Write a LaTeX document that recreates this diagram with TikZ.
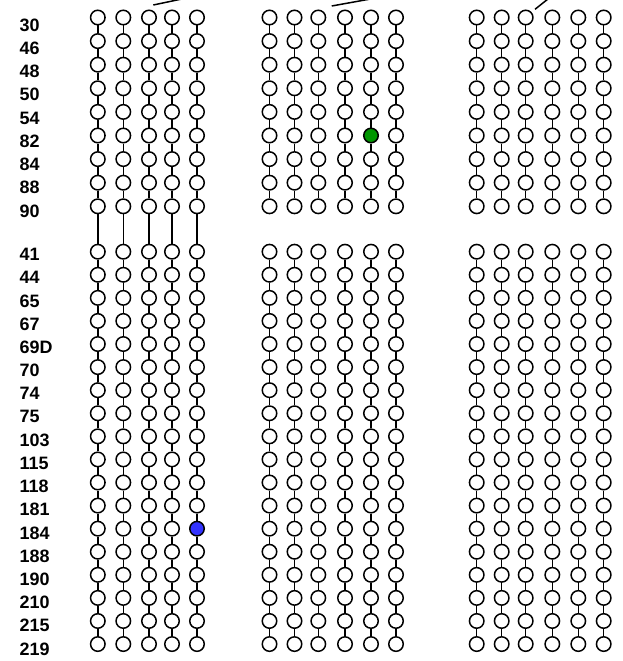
\documentclass[tikz,border=0pt]{standalone}
\usepackage{fontspec}
\setmainfont{Liberation Sans}
\usepackage{tikz}
\usetikzlibrary{positioning}
\definecolor{hitgreen}{RGB}{0,150,0}
\definecolor{hitblue}{RGB}{51,51,255}

\begin{document}
\begin{tikzpicture}[x=1bp, y=-1bp,
  site/.style={circle, draw, line width=1.5bp, fill=white, minimum size=14.5bp, inner sep=0pt},
  link/.style={line width=1.5bp},
  lab/.style={anchor=west, inner sep=0pt, font=\bfseries\fontsize{18}{20}\selectfont},
  hl-M5t5/.style={fill=hitgreen},
  hl-L5b12/.style={fill=hitblue}]
\useasboundingbox (0,0) rectangle (623,661);
% row labels
\foreach \t [count=\i from 0] in {30,46,48,50,54,82,84,88,90}
  \node[lab] (top-\t) at (19.5, 25+23.25*\i) {\t};
\foreach \t [count=\i from 0] in {41,44,65,67,69D,70,74,75,103,115,118,181,184,188,190,210,215,219}
  \node[lab] (bot-\t) at (19.5, 254.5+23.2*\i) {\t};
% columns of sites, upper block t, lower block b
\foreach \x/\p/\c in {97.8/L/1, 123.3/L/2, 149/L/3, 172/L/4, 197/L/5,
    269.5/M/1, 294.5/M/2, 318.3/M/3, 345/M/4, 371/M/5, 396/M/6,
    476.7/R/1, 501.7/R/2, 525.7/R/3, 552.3/R/4, 578.3/R/5, 603.7/R/6} {
  \foreach \r in {0,...,8}
    \node[site, hl-\p\c t\r/.try] (\p\c t\r) at (\x, 17.5+23.6*\r) {};
  \foreach \r in {0,...,17}
    \node[site, hl-\p\c b\r/.try] (\p\c b\r) at (\x, 251.7+23.08*\r) {};
  \foreach \r [evaluate=\r as \s using int(\r+1)] in {0,...,7}
    \draw[link] (\p\c t\r) -- (\p\c t\s);
  \foreach \r [evaluate=\r as \s using int(\r+1)] in {0,...,16}
    \draw[link] (\p\c b\r) -- (\p\c b\s);
}
% left block runs on from 90 to 41
\foreach \c in {1,...,5}
  \draw[link] (L\c t8) -- (L\c b0);
% edges leaving at the top
\coordinate (foot-L) at (153.3,5);   \coordinate (up-L) at (186.5,-2);
\coordinate (foot-M) at (331.7,6);   \coordinate (up-M) at (376,-2);
\coordinate (foot-R) at (535,9.3);   \coordinate (up-R) at (549.2,-2);
\draw[link] (foot-L) -- (up-L);
\draw[link] (foot-M) -- (up-M);
\draw[link] (foot-R) -- (up-R);
\end{tikzpicture}
\end{document}
